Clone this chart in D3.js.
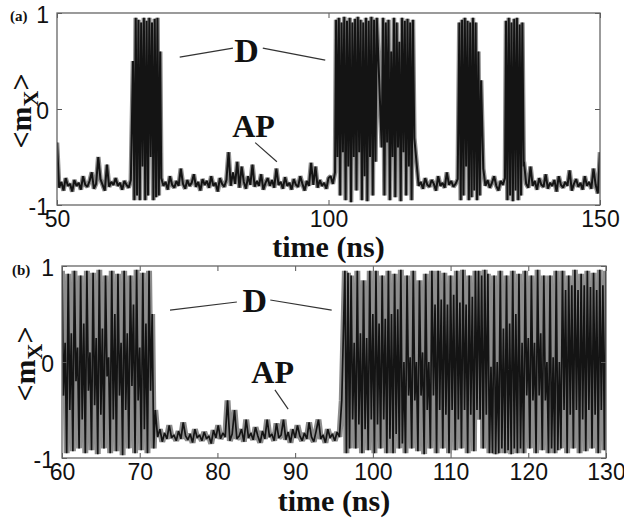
<!DOCTYPE html>
<html>
<head>
<meta charset="utf-8">
<script src="https://cdn.jsdelivr.net/npm/d3@7"></script>
<style>
  body { margin: 0; background: #fff; }
  text { fill: #111; }
</style>
</head>
<body>
<svg id="fig" width="624" height="525"></svg>
<script>
// <m_x> vs time. AP = antiparallel noise, D = dynamic (oscillating) parts
// each segment: [start time (ns), sample step (ns), values]

// ---- panel (a), 50-150 ns
const stepApA = 0.4, stepDA = 0.25;
const apA1 = [-.35,-.82,-.76,-.85,-.72,-.8,-.78,-.86,-.74,-.8,-.77,-.84,-.7,-.79,-.81,-.75,-.66,-.83,-.78,-.5,
  -.73,-.79,-.85,-.58,-.81,-.76,-.79,-.72,-.8,-.77,-.84,-.75,-.79,-.82,-.74];
const dA1 = [.5,-.95,.95,-.9,.93,-.95,.9,-.6,.95,-.95,.92,-.9,.95,-.5,.9,-.95,.94,-.92,.95,-.9,.6];
const apA2 = [-.72,-.8,-.76,-.84,-.7,-.79,-.82,-.75,-.8,-.62,
  -.78,-.83,-.74,-.8,-.77,-.68,-.81,-.76,-.85,-.73,
  -.79,-.75,-.82,-.7,-.8,-.77,-.86,-.72,-.78,-.81,
  -.74,-.45,-.8,-.66,-.78,-.55,-.82,-.6,-.76,-.83,
  -.7,-.79,-.58,-.81,-.75,-.8,-.68,-.84,-.77,-.72,
  -.8,-.74,-.82,-.62,-.79,-.76,-.83,-.71,-.8,-.77,
  -.84,-.73,-.79,-.81,-.7,-.78,-.85,-.75,-.8,-.56,
  -.79,-.6,-.82,-.74,-.8,-.77,-.83,-.72,-.7,-.78,-.66];
const dA2 = [.93,-.5,.95,-.9,.9,-.45,.96,-.95,.92,-.6,.95,-.97,.9,-.5,.94,-.85,.96,-.45,.93,-.95,
  .9,-.7,.95,-.96,.92,-.5,.96,-.9,.93,-.55,.95];
const dA3 = [-.4,.95,-.9,.9,-.35,.93,-.95,.6,-.5,.95,-.92,.9,-.4,.7,-.96,.95,-.45,.92,-.9,.94,
  -.6,.9,-.95,.93,-.3];
const apA3 = [-.55,-.8,-.76,-.83,-.72,-.79,-.81,-.74,-.78,-.85,-.7,-.8,-.77,-.82,-.66,-.79,-.75,-.81,-.78,-.73];
const dA4 = [.9,-.95,.93,-.9,.95,-.6,.92,-.95,.9,-.92,.95,-.85,.9,-.95,.6,-.9,.3];
const apA4 = [-.62,-.8,-.74,-.82,-.77,-.7,-.8,-.85,-.75,-.79,-.72];
const dA5 = [.92,-.95,.95,-.9,.9,-.96,.94,-.85,.95,-.95,.88,-.9,.9,-.6];
const apA5 = [-.55,-.78,-.82,-.6,-.8,-.75,-.84,-.72,-.79,-.81,-.68,-.83,-.77,-.8,-.74,-.86,-.7,-.79,
  -.82,-.76,-.8,-.64,-.85,-.78,-.73,-.81,-.77,-.84,-.7,-.8,-.76,-.83,-.62,-.79,-.88,-.45];

const segmentsA = [
  [50, stepApA, apA1], [64.0, stepDA, dA1], [69.2, stepApA, apA2],
  [101.4, stepDA, dA2], [109.8, stepDA, dA3], [116.2, stepApA, apA3],
  [124.1, stepDA, dA4], [128.5, stepApA, apA4], [132.7, stepDA, dA5], [136.0, stepApA, apA5]
];

// ---- panel (b), 60-130 ns
const stepApB = 0.3, stepDB = 0.2;
const dB1 = [.95,-.35,.2,-.95,.92,-.5,.3,-.93,.95,-.2,.15,-.9,.9,-.6,.4,-.95,.95,-.3,.1,-.92,
  .93,-.45,.25,-.96,.96,-.55,.35,-.9,.9,-.15,.05,-.95,.95,-.6,.5,-.93,.92,-.35,.2,-.97,
  .95,-.5,.3,-.9,.9,-.25,.6,-.95,.96,-.4,.15,-.92,.93,-.7,.4,-.95,.95,-.3,.5,-.9];
const apB = [-.5,-.78,-.7,-.83,-.74,-.8,-.66,-.79,-.76,-.82,
  -.72,-.8,-.63,-.77,-.81,-.75,-.84,-.7,-.79,-.76,
  -.82,-.73,-.8,-.77,-.85,-.71,-.79,-.66,-.8,-.74,
  -.78,-.4,-.82,-.75,-.5,-.8,-.77,-.7,-.83,-.6,
  -.79,-.74,-.81,-.68,-.77,-.84,-.72,-.8,-.6,-.78,
  -.75,-.82,-.64,-.79,-.76,-.6,-.81,-.73,-.84,-.7,
  -.79,-.66,-.77,-.82,-.74,-.8,-.63,-.78,-.83,-.72,
  -.6,-.8,-.76,-.84,-.7,-.79,-.75,-.82,-.73,-.78,-.4];
const dB2 = [.95,-.95,.93,-.9,
  .9,-.6,.2,-.9,.95,-.65,.3,-.95,.85,-.7,.25,-.92,.95,-.6,.5,-.95,
  .95,-.65,.4,-.9,.9,-.6,.45,-.95,
  .95,-.8,.5,-.95,.92,-.75,.55,-.9,.96,-.85,
  0,-.95,.9,-.35,.05,-.9,.95,-.4,0,-.93,.85,-.35,.1,-.96,.92,-.5,0,-.9,.95,-.35,
  .6,-.95,.95,-.5,.65,-.9,.93,-.55,.6,-.95,.9,-.5,.7,-.92,.95,-.6,.62,-.9,.96,-.5,.6,-.95,.9,-.55,.68,-.93,.95,-.5,
  .95,-.6,.9,-.9,.96,-.55,.92,-.95,
  -.05,-.95,.9,-.96,0,-.95,
  .95,-.9,.35,-.95,.9,-.92,.4,-.96,.95,-.9,.5,-.95,.92,-.9,
  .2,-.95,.95,-.35,.25,-.9,.9,-.4,.2,-.95,.96,-.35,.3,-.92,.9,-.4,
  0,-.95,.9,-.9,.05,-.95,.95,-.92,0,-.9,
  .95,-.5,.75,-.95,.9,-.55,.8,-.9,.96,-.5,.75,-.95,.92,-.6,.8,-.93,.95,-.5,.78,-.9,
  .93,-.55,.75,-.95,.96,-.5,.8,-.92,.95,-.55];

const segmentsB = [[60, stepDB, dB1], [72.0, stepApB, apB], [96.4, stepDB, dB2]];

const yTicks = [-1, 0, 1];
const xTicksA = [50, 100, 150];
const xTicksB = [60, 70, 80, 90, 100, 110, 120, 130];

// annotation anchors in data units
const notesA = [
  { text: "D", t: 84.9, v: 0.49, size: 34, lines: [[72.6, .54, 82.4, .635], [87.9, .635, 99.4, .51]] },
  { text: "AP", t: 86.2, v: -0.29, size: 32, lines: [[86.5, -.35, 90.5, -.55]] }
];
const notesB = [
  { text: "D", t: 84.8, v: 0.52, size: 34, lines: [[73.9, .54, 82.5, .625], [86.8, .646, 94.7, .54]] },
  { text: "AP", t: 87.1, v: -0.22, size: 32, lines: [[87.4, -.29, 89.1, -.49]] }
];

const svg = d3.select("#fig");
const serif = "'Liberation Serif', 'Times New Roman', serif";
const sans = "'Liberation Sans', Arial, sans-serif";

function toPoints(segments) {
  const pts = [];
  segments.forEach(([t0, dt, vals]) => {
    vals.forEach((v, i) => pts.push([t0 + i * dt, v]));
  });
  return pts;
}

function drawPanel(cfg) {
  const x = d3.scaleLinear().domain(cfg.xDomain).range([cfg.left, cfg.right]);
  const y = d3.scaleLinear().domain([-1, 1]).range([cfg.bottom, cfg.top]);
  const g = svg.append("g");

  g.append("clipPath").attr("id", "clip-" + cfg.name)
    .append("rect")
    .attr("x", cfg.left).attr("y", cfg.top + 1)
    .attr("width", cfg.right - cfg.left).attr("height", cfg.bottom - cfg.top - 2);

  const line = d3.line().x(d => x(d[0])).y(d => y(d[1]));
  const pts = toPoints(cfg.segments);
  // gray halo under the trace gives the washed-out look of the dense oscillation
  [["#8d8d8d", cfg.haloWidth], ["#141414", cfg.lineWidth]].forEach(([col, w]) => {
    g.append("path")
      .datum(pts)
      .attr("clip-path", "url(#clip-" + cfg.name + ")")
      .attr("fill", "none")
      .attr("stroke", col)
      .attr("stroke-width", w)
      .attr("stroke-linejoin", "bevel")
      .attr("d", line);
  });

  // inward ticks on all four sides
  const axes = [
    [d3.axisBottom(x).tickValues(cfg.xTicks).tickFormat(d => String(d)), `translate(0,${cfg.bottom})`],
    [d3.axisTop(x).tickValues(cfg.xTicks).tickFormat(""), `translate(0,${cfg.top})`],
    [d3.axisLeft(y).tickValues(yTicks).tickFormat(d => String(d)), `translate(${cfg.left},0)`],
    [d3.axisRight(y).tickValues(yTicks).tickFormat(""), `translate(${cfg.right},0)`]
  ];
  axes.forEach(([ax, tr], i) => {
    const a = g.append("g").attr("transform", tr)
      .call(ax.tickSize(-5).tickPadding(i === 2 ? 8 : 6));
    a.select(".domain").remove();
    a.selectAll(".tick line").attr("stroke", "#555");
    a.selectAll("text")
      .attr("font-family", sans).attr("font-size", 23).attr("fill", "#111");
    if (i === 2) a.selectAll("text").attr("dy", "0.42em");
  });

  g.append("rect")
    .attr("x", cfg.left).attr("y", cfg.top)
    .attr("width", cfg.right - cfg.left).attr("height", cfg.bottom - cfg.top)
    .attr("fill", "none").attr("stroke", "#666").attr("stroke-width", 1.3);

  // annotations
  cfg.notes.forEach(n => {
    g.append("text")
      .attr("x", x(n.t)).attr("y", y(n.v))
      .attr("text-anchor", "middle")
      .attr("font-family", serif).attr("font-weight", "bold").attr("font-size", n.size)
      .text(n.text);
    n.lines.forEach(l => {
      g.append("line")
        .attr("x1", x(l[0])).attr("y1", y(l[1]))
        .attr("x2", x(l[2])).attr("y2", y(l[3]))
        .attr("stroke", "#333").attr("stroke-width", 1.2);
    });
  });

  // axis titles
  g.append("text")
    .attr("x", (cfg.left + cfg.right) / 2).attr("y", cfg.bottom + cfg.titleGap)
    .attr("text-anchor", "middle")
    .attr("font-family", serif).attr("font-weight", "bold").attr("font-size", 30)
    .text("time (ns)");

  const yl = g.append("text")
    .attr("transform", `translate(${cfg.yLabelX},${(cfg.top + cfg.bottom) / 2 + 2}) rotate(-90)`)
    .attr("text-anchor", "middle")
    .attr("font-family", serif).attr("font-weight", "bold").attr("font-size", 30);
  yl.append("tspan").text("<m");
  yl.append("tspan").attr("font-size", 22).attr("dy", 7).text("X");
  yl.append("tspan").attr("dy", -7).text(">");

  g.append("text")
    .attr("x", cfg.tagX).attr("y", cfg.tagY)
    .attr("font-family", serif).attr("font-weight", "bold").attr("font-size", 15)
    .text(cfg.tag);
}

drawPanel({
  name: "a", tag: "(a)", tagX: 10, tagY: 21,
  xDomain: [50, 150], xTicks: xTicksA,
  left: 57, right: 600, top: 13, bottom: 205, lineWidth: 2, haloWidth: 4.6,
  segments: segmentsA, notes: notesA, titleGap: 52, yLabelX: 31
});

drawPanel({
  name: "b", tag: "(b)", tagX: 12, tagY: 275,
  xDomain: [60, 130], xTicks: xTicksB,
  left: 62, right: 606, top: 266, bottom: 458, lineWidth: 1.7, haloWidth: 6,
  segments: segmentsB, notes: notesB, titleGap: 53, yLabelX: 35
});
</script>
</body>
</html>
